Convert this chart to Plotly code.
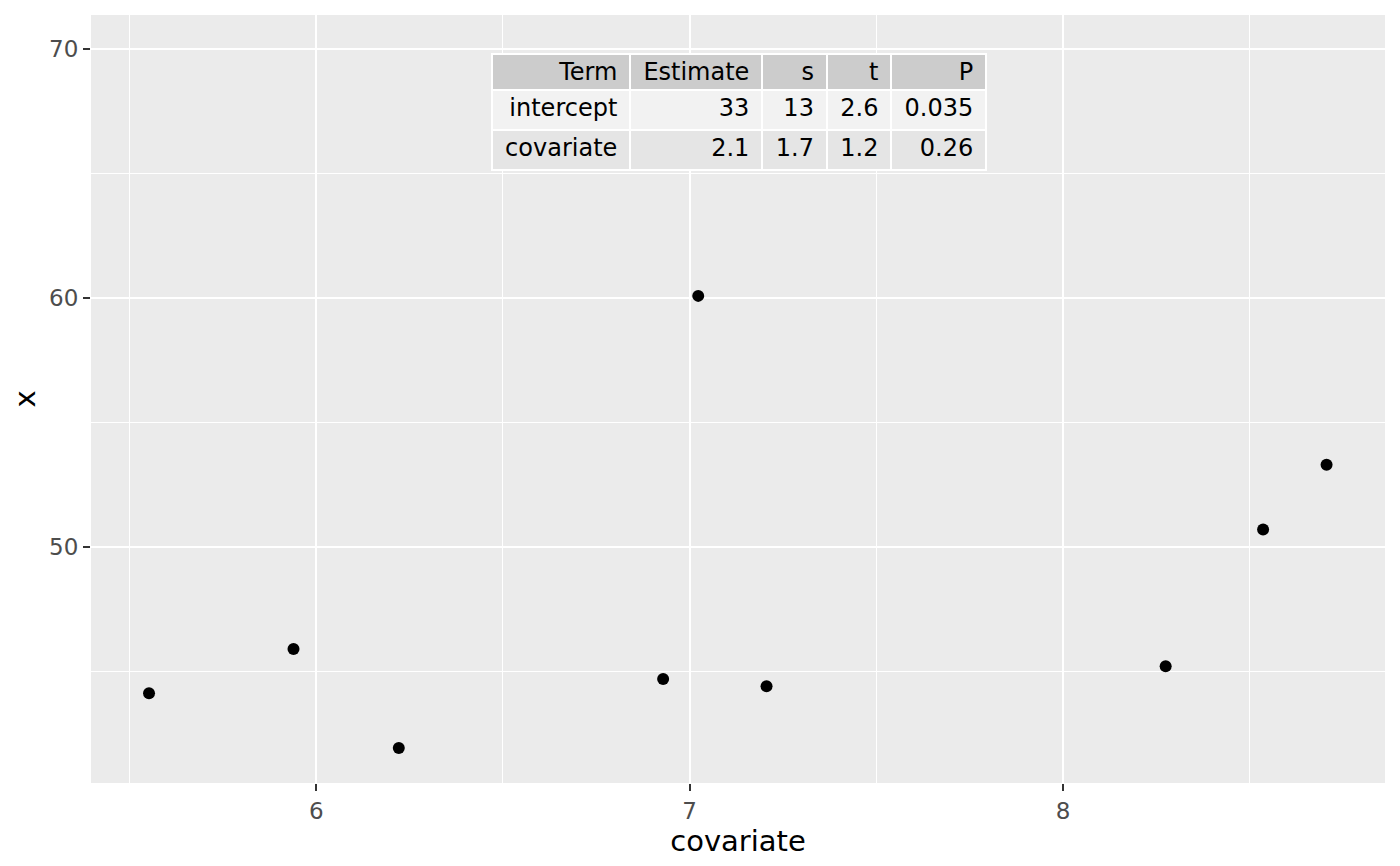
import plotly.graph_objects as go

# data
covariate = [5.552, 5.939, 6.221, 6.929, 7.023, 7.206, 8.275, 8.536, 8.706]
x_vals = [44.12, 45.90, 41.92, 44.69, 60.09, 44.40, 45.20, 50.70, 53.30]

table_header = ["Term", "Estimate", "s", "t", "P"]
term = ["intercept", "covariate"]
estimate = ["33", "2.1"]
s_vals = ["13", "1.7"]
t_vals = ["2.6", "1.2"]
p_vals = ["0.035", "0.26"]

FONT = "DejaVu Sans"
row_fill = ["#F2F2F2", "#E5E5E5"]
PAD = "\u2009"


def padded(col):
    return [str(v) + PAD for v in col]


fig = go.Figure()
fig.add_trace(go.Scatter(
    x=covariate, y=x_vals, mode="markers",
    marker=dict(color="black", size=12, line=dict(width=0)),
    showlegend=False, hoverinfo="x+y",
))

# figure is 1384x850 (page body margin 8px) -> plot area 83..1377, 7..775 in figure coords
PW, PH = 1294, 768
tx0 = (484 - 83) / PW
tx1 = (978 - 83) / PW
ty1 = 1 - (46 - 7) / PH

fig.add_trace(go.Table(
    domain=dict(x=[tx0, tx1], y=[0.3, ty1]),
    columnwidth=[137, 131, 64, 64, 94],
    header=dict(
        values=padded(table_header),
        fill_color="#CCCCCC",
        line=dict(color="white", width=2),
        align="right",
        height=36,
        font=dict(family=FONT, size=24, color="black"),
    ),
    cells=dict(
        values=[padded(term), padded(estimate), padded(s_vals), padded(t_vals), padded(p_vals)],
        fill_color=[row_fill] * 5,
        line=dict(color="white", width=2),
        align="right",
        height=40,
        font=dict(family=FONT, size=24, color="black"),
    ),
))

axis_common = dict(
    showgrid=True, gridcolor="white", gridwidth=2.2,
    zeroline=False, showline=False,
    ticks="outside", ticklen=7, tickwidth=2, tickcolor="#333333",
    tickfont=dict(family=FONT, size=23, color="#4D4D4D"),
)

fig.update_layout(
    width=1384, height=850,
    margin=dict(l=83, r=7, t=7, b=75),
    paper_bgcolor="white", plot_bgcolor="#EBEBEB",
    font=dict(family=FONT),
    xaxis=dict(
        **axis_common,
        range=[5.3966, 8.8625], tickmode="array", tickvals=[6, 7, 8],
        minor=dict(tickmode="array", tickvals=[5.5, 6.5, 7.5, 8.5],
                   showgrid=True, gridcolor="white", gridwidth=1.1, ticks=""),
        title=dict(text="covariate", font=dict(family=FONT, size=29, color="black"), standoff=0),
    ),
    yaxis=dict(
        **axis_common,
        range=[40.51, 71.38], tickmode="array", tickvals=[50, 60, 70],
        minor=dict(tickmode="array", tickvals=[45, 55, 65],
                   showgrid=True, gridcolor="white", gridwidth=1.1, ticks=""),
        title=dict(text="x", font=dict(family=FONT, size=29, color="black"), standoff=4),
    ),
)

fig.write_html("out.html")
